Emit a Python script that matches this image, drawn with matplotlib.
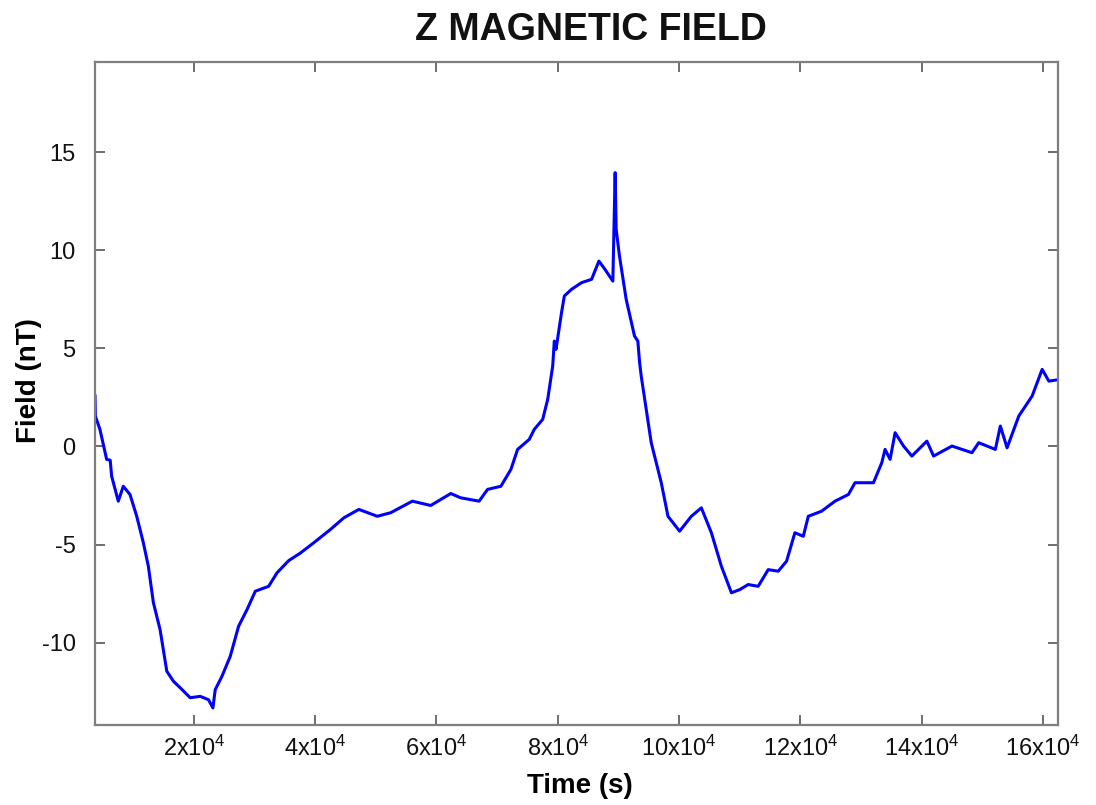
import matplotlib
matplotlib.use("Agg")
import matplotlib.pyplot as plt

plt.rcParams['font.family'] = ['Liberation Sans', 'DejaVu Sans']
plt.rcParams['mathtext.default'] = 'regular'
plt.rcParams['axes.unicode_minus'] = False

# time (s) and Z field (nT)
time_s = [3700, 3750, 4510, 5620, 6200, 6445, 7536, 8363, 9470, 10578,
          11669, 12495, 13322, 14429, 15537, 16628, 17735, 19388, 21041, 22413,
          23141, 23521, 24628, 26000, 27372, 28761, 30133, 32331, 33720, 35637,
          37500, 39770, 42530, 44729, 47208, 50250, 52448, 56035, 59060, 62366,
          64019, 67044, 68432, 70631, 72284, 73391, 75309, 76135, 77524, 78351,
          79177, 79442, 79723, 80630, 81095, 82282, 83935, 85588, 86795, 87787,
          89095, 89476, 89641, 90186, 91293, 92666, 93218, 93500, 93773, 95426,
          97079, 98187, 100104, 102038, 103691, 105344, 106997, 108650, 110022, 111411,
          113064, 114717, 116370, 117742, 119114, 120502, 121329, 123527, 125725, 127940,
          129031, 132072, 133444, 133990, 134816, 135643, 137031, 138403, 140882, 141990,
          145015, 148321, 149429, 152173, 153000, 154107, 156041, 158240, 159893, 161000,
          162918]
field_nt = [2.57, 1.55, 0.87, -0.66, -0.70, -1.52, -2.79, -2.03, -2.45, -3.56,
            -4.91, -6.11, -7.96, -9.34, -11.46, -11.97, -12.30, -12.81, -12.74, -12.91,
            -13.33, -12.40, -11.72, -10.70, -9.17, -8.32, -7.38, -7.13, -6.44, -5.82,
            -5.45, -4.91, -4.23, -3.64, -3.21, -3.56, -3.38, -2.79, -3.01, -2.40,
            -2.62, -2.79, -2.19, -2.03, -1.17, -0.15, 0.36, 0.87, 1.38, 2.40,
            4.10, 5.37, 4.95, 6.82, 7.67, 8.01, 8.35, 8.52, 9.45, 9.03,
            8.43, 13.96, 11.07, 9.71, 7.50, 5.63, 5.37, 4.30, 3.59, 0.19,
            -1.85, -3.56, -4.32, -3.56, -3.13, -4.40, -6.11, -7.46, -7.30, -7.04,
            -7.13, -6.28, -6.36, -5.85, -4.40, -4.58, -3.56, -3.30, -2.79, -2.45,
            -1.85, -1.85, -0.83, -0.15, -0.66, 0.70, 0.02, -0.49, 0.27, -0.49,
            0.02, -0.32, 0.19, -0.15, 1.04, -0.07, 1.55, 2.57, 3.93, 3.33,
            3.42]

x_ticks = [20000, 40000, 60000, 80000, 100000, 120000, 140000, 160000]
x_tick_labels = ['%dx10$^4$' % (t // 10000) for t in x_ticks]
y_ticks = [-10, -5, 0, 5, 10, 15]

fig = plt.figure(figsize=(10.96, 8.05), dpi=100)
ax = fig.add_axes([0.0867, 0.0994, 0.8786, 0.8236])

ax.plot(time_s, field_nt, color='#0000ff', linewidth=2.2)

ax.set_xlim(3700, 162500)
ax.set_ylim(-14.2, 19.6)
ax.set_xticks(x_ticks)
ax.set_xticklabels(x_tick_labels)
ax.set_yticks(y_ticks)

for s in ax.spines.values():
    s.set_color('#7f7f7f')
    s.set_linewidth(1.6)
ax.tick_params(direction='in', length=7, width=1.2, color='#555555',
               top=True, right=True, labelsize=17, labelcolor='#111111')
ax.tick_params(axis='x', pad=8)
ax.tick_params(axis='y', pad=14)

ax.set_xlabel('Time (s)', fontsize=20, fontweight='bold')
ax.xaxis.set_label_coords(0.503, -0.092)
ax.xaxis.label.set_va('center')
ax.set_ylabel('Field (nT)', fontsize=20, fontweight='bold')
ax.yaxis.set_label_coords(-0.069, 0.52)
ax.yaxis.label.set_va('center')

fig.text(0.539, 0.963, 'Z MAGNETIC FIELD', fontsize=27, fontweight='bold',
         ha='center', va='center', color='#111111')

fig.savefig('out.png', dpi=100)
plt.close(fig)
